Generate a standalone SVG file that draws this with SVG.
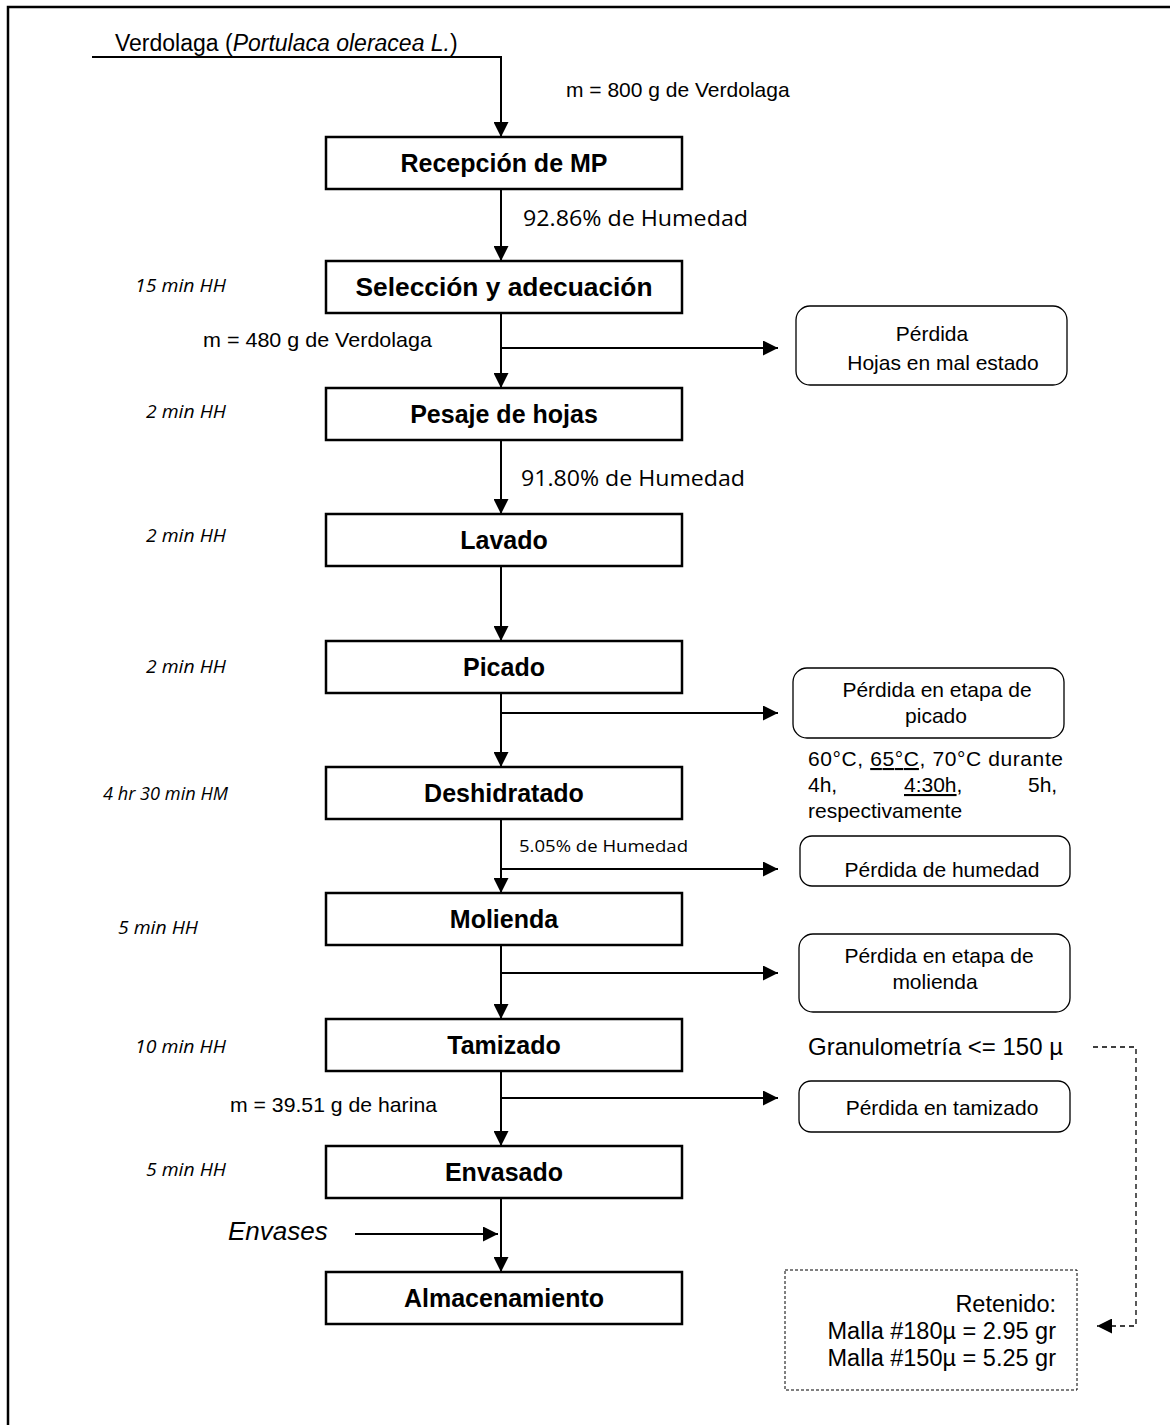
<svg xmlns="http://www.w3.org/2000/svg" width="1170" height="1425" viewBox="0 0 1170 1425">
<style>
  .box{fill:#fff;stroke:#000;stroke-width:2.5}
  .rbox{fill:#fff;stroke:#000;stroke-width:1.3}
  .lbl{font-family:"Liberation Sans",Arial,sans-serif;font-weight:bold;font-size:25px;text-anchor:middle;fill:#000}
  .t{font-family:"Liberation Sans",Arial,sans-serif;font-size:21px;fill:#000}
  .c{font-family:"Open Sans","Noto Sans",sans-serif;font-size:21px;fill:#000}
  .side{font-family:"Open Sans","Noto Sans",sans-serif;font-style:italic;font-size:18.5px;fill:#000}
  .mid{text-anchor:middle}
  .end{text-anchor:end}
  .big{font-size:23.5px}
  .ln{fill:none;stroke:#000;stroke-width:2}
  .dash{fill:none;stroke:#000;stroke-width:1.3;stroke-dasharray:5 4}
</style>
<defs>
  <marker id="arr" viewBox="0 0 10 10" refX="10" refY="5" markerWidth="15" markerHeight="15" markerUnits="userSpaceOnUse" orient="auto">
    <path d="M0,0 L10,5 L0,10 z" fill="#000"/>
  </marker>
</defs>

<!-- page border -->
<path d="M8,1425 V7 H1170" fill="none" stroke="#000" stroke-width="2.5"/>

<g id="connectors">
  <path class="ln" d="M92,57 H501 V137" marker-end="url(#arr)"/>
  <path class="ln" d="M501,189 V261" marker-end="url(#arr)"/>
  <path class="ln" d="M501,313 V388" marker-end="url(#arr)"/>
  <path class="ln" d="M501,348 H778" marker-end="url(#arr)"/>
  <path class="ln" d="M501,440 V514" marker-end="url(#arr)"/>
  <path class="ln" d="M501,566 V641" marker-end="url(#arr)"/>
  <path class="ln" d="M501,693 V767" marker-end="url(#arr)"/>
  <path class="ln" d="M501,713 H778" marker-end="url(#arr)"/>
  <path class="ln" d="M501,819 V893" marker-end="url(#arr)"/>
  <path class="ln" d="M501,869 H778" marker-end="url(#arr)"/>
  <path class="ln" d="M501,945 V1019" marker-end="url(#arr)"/>
  <path class="ln" d="M501,973 H778" marker-end="url(#arr)"/>
  <path class="ln" d="M501,1071 V1146" marker-end="url(#arr)"/>
  <path class="ln" d="M501,1098 H778" marker-end="url(#arr)"/>
  <path class="ln" d="M501,1198 V1272" marker-end="url(#arr)"/>
  <path class="ln" d="M355,1234 H498" marker-end="url(#arr)"/>
  <path class="dash" d="M1093,1047 H1136 V1326 H1097" marker-end="url(#arr)"/>
</g>

<!-- input label -->
<g id="input">
  <text class="t" x="115" y="51" style="font-size:23px">Verdolaga (<tspan font-style="italic">Portulaca oleracea L.</tspan>)</text>
  <text class="t" x="566" y="97">m = 800 g de Verdolaga</text>
</g>

<g id="recepcion">
  <rect class="box" x="326" y="137" width="356" height="52"/>
  <text class="lbl" x="504" y="172">Recepción de MP</text>
</g>
<text class="c" x="523" y="226" textLength="225" lengthAdjust="spacingAndGlyphs">92.86% de Humedad</text>

<g id="seleccion">
  <rect class="box" x="326" y="261" width="356" height="52"/>
  <text class="lbl" x="504" y="296" textLength="297" lengthAdjust="spacingAndGlyphs">Selección y adecuación</text>
  <text class="side" x="135" y="292" textLength="91" lengthAdjust="spacingAndGlyphs">15 min HH</text>
</g>
<text class="t" x="203" y="347" textLength="229" lengthAdjust="spacingAndGlyphs">m = 480 g de Verdolaga</text>

<g id="perdida1">
  <rect class="rbox" x="796" y="306" width="271" height="79" rx="14"/>
  <text class="t mid" x="932" y="341">Pérdida</text>
  <text class="t mid" x="943" y="370">Hojas en mal estado</text>
</g>

<g id="pesaje">
  <rect class="box" x="326" y="388" width="356" height="52"/>
  <text class="lbl" x="504" y="423">Pesaje de hojas</text>
  <text class="side" x="146" y="418" textLength="80" lengthAdjust="spacingAndGlyphs">2 min HH</text>
</g>
<text class="c" x="521" y="486" textLength="224" lengthAdjust="spacingAndGlyphs">91.80% de Humedad</text>

<g id="lavado">
  <rect class="box" x="326" y="514" width="356" height="52"/>
  <text class="lbl" x="504" y="549">Lavado</text>
  <text class="side" x="146" y="542" textLength="80" lengthAdjust="spacingAndGlyphs">2 min HH</text>
</g>

<g id="picado">
  <rect class="box" x="326" y="641" width="356" height="52"/>
  <text class="lbl" x="504" y="676">Picado</text>
  <text class="side" x="146" y="673" textLength="80" lengthAdjust="spacingAndGlyphs">2 min HH</text>
</g>

<g id="perdida2">
  <rect class="rbox" x="793" y="668" width="271" height="70" rx="14"/>
  <text class="t mid" x="937" y="697">Pérdida en etapa de</text>
  <text class="t mid" x="936" y="723">picado</text>
</g>

<g id="condiciones">
  <text class="t" x="808" y="766" textLength="255" lengthAdjust="spacing">60°C, <tspan text-decoration="underline">65°C</tspan>, 70°C durante</text>
  <text class="t" y="792"><tspan x="808">4h,</tspan><tspan x="904"><tspan text-decoration="underline">4:30h</tspan>,</tspan><tspan x="1028">5h,</tspan></text>
  <text class="t" x="808" y="818">respectivamente</text>
</g>

<g id="deshidratado">
  <rect class="box" x="326" y="767" width="356" height="52"/>
  <text class="lbl" x="504" y="802">Deshidratado</text>
  <text class="side" x="103" y="800" textLength="125" lengthAdjust="spacingAndGlyphs">4 hr 30 min HM</text>
</g>
<text class="c" x="519" y="852" style="font-size:16px" textLength="169" lengthAdjust="spacingAndGlyphs">5.05% de Humedad</text>

<g id="perdida3">
  <rect class="rbox" x="800" y="836" width="270" height="50" rx="12"/>
  <text class="t mid" x="942" y="877">Pérdida de humedad</text>
</g>

<g id="molienda">
  <rect class="box" x="326" y="893" width="356" height="52"/>
  <text class="lbl" x="504" y="928">Molienda</text>
  <text class="side" x="118" y="934" textLength="80" lengthAdjust="spacingAndGlyphs">5 min HH</text>
</g>

<g id="perdida4">
  <rect class="rbox" x="799" y="934" width="271" height="78" rx="14"/>
  <text class="t mid" x="939" y="963">Pérdida en etapa de</text>
  <text class="t mid" x="935" y="989">molienda</text>
</g>

<g id="tamizado">
  <rect class="box" x="326" y="1019" width="356" height="52"/>
  <text class="lbl" x="504" y="1054">Tamizado</text>
  <text class="side" x="135" y="1053" textLength="91" lengthAdjust="spacingAndGlyphs">10 min HH</text>
</g>
<text class="t" x="808" y="1055" style="font-size:24px" textLength="255" lengthAdjust="spacingAndGlyphs">Granulometría &lt;= 150 µ</text>
<text class="t" x="230" y="1112" textLength="207" lengthAdjust="spacingAndGlyphs">m = 39.51 g de harina</text>

<g id="perdida5">
  <rect class="rbox" x="799" y="1081" width="271" height="51" rx="12"/>
  <text class="t mid" x="942" y="1115">Pérdida en tamizado</text>
</g>

<g id="envasado">
  <rect class="box" x="326" y="1146" width="356" height="52"/>
  <text class="lbl" x="504" y="1181">Envasado</text>
  <text class="side" x="146" y="1176" textLength="80" lengthAdjust="spacingAndGlyphs">5 min HH</text>
</g>
<text class="t" x="228" y="1240" style="font-size:26px;font-style:italic">Envases</text>

<g id="almacenamiento">
  <rect class="box" x="326" y="1272" width="356" height="52"/>
  <text class="lbl" x="504" y="1307">Almacenamiento</text>
</g>

<g id="retenido">
  <rect x="785" y="1270" width="292" height="120" fill="#fff" stroke="#000" stroke-width="1" stroke-dasharray="3 2"/>
  <text class="t end big" x="1056" y="1312">Retenido:</text>
  <text class="t end big" x="1056" y="1339">Malla #180µ = 2.95 gr</text>
  <text class="t end big" x="1056" y="1366">Malla #150µ = 5.25 gr</text>
</g>
</svg>
